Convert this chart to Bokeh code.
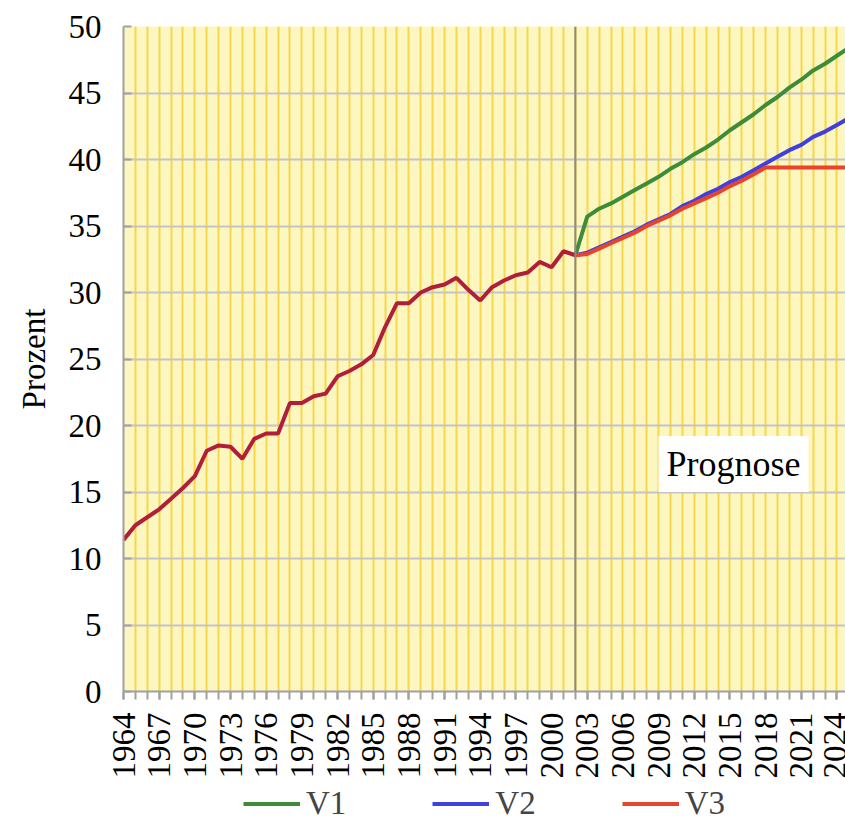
from bokeh.plotting import figure
from bokeh.layouts import column
from bokeh.models import FixedTicker, Legend, LegendItem, Label, Span
from bokeh.embed import file_html
from bokeh.resources import INLINE

# ---- data ----
hist_years = list(range(1964, 2003))
hist_values = [11.4, 12.5, 13.1, 13.7, 14.5, 15.3, 16.2, 18.1, 18.5, 18.4,
               17.5, 19.0, 19.4, 19.4, 21.7, 21.7, 22.2, 22.4, 23.7, 24.1,
               24.6, 25.3, 27.4, 29.2, 29.2, 30.0, 30.4, 30.6, 31.1, 30.2,
               29.4, 30.4, 30.9, 31.3, 31.5, 32.3, 31.9, 33.1, 32.8]

proj_years = list(range(2002, 2026))
v1 = [32.8, 35.7, 36.3, 36.7, 37.2, 37.7, 38.2, 38.7, 39.3, 39.8,
      40.4, 40.9, 41.5, 42.2, 42.8, 43.4, 44.1, 44.7, 45.4, 46.0,
      46.7, 47.2, 47.8, 48.4]
v2 = [32.8, 33.0, 33.4, 33.8, 34.2, 34.6, 35.1, 35.5, 35.9, 36.5,
      36.9, 37.4, 37.8, 38.3, 38.7, 39.2, 39.7, 40.2, 40.7, 41.1,
      41.7, 42.1, 42.6, 43.1]
v3 = [32.8, 32.9, 33.3, 33.7, 34.1, 34.5, 35.0, 35.4, 35.8, 36.3,
      36.7, 37.1, 37.5, 38.0, 38.4, 38.9, 39.4, 39.4, 39.4, 39.4,
      39.4, 39.4, 39.4, 39.4]
series_names = ["V1", "V2", "V3"]
series_colors = ["#3C8C3A", "#4040E0", "#E8432E"]

label_years = list(range(1964, 2026, 3))
all_years = list(range(1964, 2026))
y_ticks = list(range(0, 51, 5))
split_year = 2002

FONT = "Liberation Serif"

p = figure(width=845, height=783, x_range=(1964, 2024.72), y_range=(0, 50),
           output_backend="svg", toolbar_location=None,
           min_border_left=123, min_border_top=26, min_border_right=0,
           min_border_bottom=92,
           background_fill_color="#FCF6C0", border_fill_color="white")
p.outline_line_color = None

# grids
p.xgrid.ticker = FixedTicker(ticks=all_years)
p.xgrid.grid_line_color = "#F8D64A"
p.xgrid.grid_line_width = 2
p.ygrid.ticker = FixedTicker(ticks=y_ticks)
p.ygrid.grid_line_color = "#C4C4C4"
p.ygrid.grid_line_width = 2

# x axis
p.xaxis.ticker = FixedTicker(ticks=label_years, minor_ticks=all_years)
p.xaxis.major_label_orientation = 1.5707963
p.xaxis.axis_line_color = "#A0A0A0"
p.xaxis.axis_line_width = 2
p.xaxis.major_tick_line_color = "#A0A0A0"
p.xaxis.minor_tick_line_color = "#A0A0A0"
p.xaxis.major_tick_line_width = 2
p.xaxis.minor_tick_line_width = 2
p.xaxis.major_tick_out = 8
p.xaxis.major_tick_in = 0
p.xaxis.minor_tick_out = 8
p.xaxis.minor_tick_in = 0
p.xaxis.major_label_standoff = 13
p.xaxis.major_label_text_font = FONT
p.xaxis.major_label_text_font_size = "33px"
p.xaxis.major_label_text_color = "black"

# y axis
p.yaxis.ticker = FixedTicker(ticks=y_ticks)
p.yaxis.axis_line_color = "#A0A0A0"
p.yaxis.axis_line_width = 2
p.yaxis.major_tick_line_color = "#A0A0A0"
p.yaxis.major_tick_line_width = 2
p.yaxis.major_tick_in = 8
p.yaxis.major_tick_out = 0
p.yaxis.minor_tick_line_color = None
p.yaxis.major_label_standoff = 22
p.yaxis.major_label_text_font = FONT
p.yaxis.major_label_text_font_size = "33px"
p.yaxis.major_label_text_color = "black"
p.yaxis.axis_label = "Prozent"
p.yaxis.axis_label_text_font = FONT
p.yaxis.axis_label_text_font_size = "33px"
p.yaxis.axis_label_text_font_style = "normal"
p.yaxis.axis_label_text_color = "black"
p.yaxis.axis_label_standoff = 14

# vertical separator
p.add_layout(Span(location=split_year, dimension="height",
                  line_color="#8A8A8A", line_width=2))

# lines
for vals, col in zip([v1, v2, v3], series_colors):
    p.line(proj_years, vals, line_color=col, line_width=4)
p.line(hist_years, hist_values, line_color="#B01E3C", line_width=4)

# Prognose label
p.add_layout(Label(x=2015.3, y=17.1, text="Prognose", text_align="center",
                   text_baseline="middle", text_font=FONT,
                   text_font_size="36px", text_color="black",
                   background_fill_color="white", padding=8))

# legend strip below the chart (its frame holds the legend, data lie outside its ranges)
lg = figure(width=845, height=40, x_range=(0, 1), y_range=(0, 1),
            output_backend="svg", toolbar_location=None,
            x_axis_location=None, y_axis_location=None,
            min_border_left=123, min_border_right=0, min_border_top=0,
            min_border_bottom=0, background_fill_color="white",
            border_fill_color="white")
lg.outline_line_color = None
lg.xgrid.visible = False
lg.ygrid.visible = False
items = []
for name, vals, col in zip(series_names, [v1, v2, v3], series_colors):
    r = lg.line(proj_years, vals, line_color=col, line_width=4)
    items.append(LegendItem(label=name, renderers=[r]))

legend = Legend(items=items, orientation="horizontal", location="center",
                label_text_font=FONT, label_text_font_size="33px",
                glyph_width=57, glyph_height=20, label_standoff=6,
                label_width=40, label_height=20,
                spacing=86, padding=0, margin=0,
                border_line_color=None, background_fill_alpha=0)
lg.add_layout(legend, "center")

layout = column(p, lg, spacing=0)
open("out.html", "w").write(file_html(layout, INLINE))
